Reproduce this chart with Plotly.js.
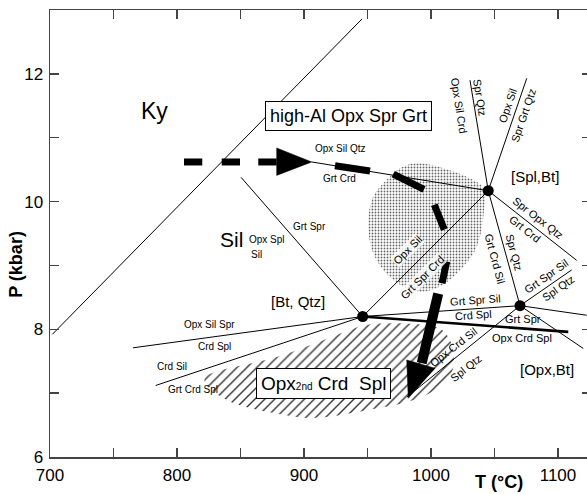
<!DOCTYPE html>
<html>
<head>
<meta charset="utf-8">
<script src="https://cdn.plot.ly/plotly-3.0.1.min.js"></script>
<style>
html,body{margin:0;padding:0;overflow:hidden;background:#fff;}
#chart{width:592px;height:494px;}
</style>
</head>
<body>
<div id="chart"></div>
<script>
// ---- Invariant points ([Bt, Qtz], [Spl,Bt], [Opx,Bt]) ----
const invT = [946.2, 1045.1, 1070.1];
const invP = [8.20, 10.17, 8.37];

// ---- Reaction lines (T in °C, P in kbar) ----
const kySilT = [701.8, 945.7],   kySilP = [7.92, 12.86];
const silSplT = [850.4, 946.2],  silSplP = [10.38, 8.20];
const btq_sbT = [946.2, 1045.1], btq_sbP = [8.20, 10.17];
const btq_obT = [946.2, 1070.1], btq_obP = [8.20, 8.37];
const leftHiT = [765.4, 946.2],  leftHiP = [7.71, 8.20];
const leftLoT = [783.2, 946.2],  leftLoP = [7.12, 8.20];
const sbTopLT = [1045.1, 1030.7], sbTopLP = [10.17, 11.90];
const sbTopRT = [1045.1, 1075.4], sbTopRP = [10.17, 11.93];
const sbLeftT = [906.1, 1045.1],  sbLeftP = [10.62, 10.17];
const sbRightT = [1045.1, 1114.7], sbRightP = [10.17, 9.08];
const sb_obT = [1045.1, 1070.1],  sb_obP = [10.17, 8.37];
const obUpT = [1070.1, 1110.8],   obUpP = [8.37, 8.93];
const obRightT = [1070.1, 1122.6], obRightP = [8.37, 8.22];
const obDownT = [1070.1, 1119.9], obDownP = [8.37, 7.70];
const obLowLT = [981.1, 1070.1],  obLowLP = [6.94, 8.37];
const thickT = [946.2, 1108.1],   thickP = [8.20, 7.96];

// ---- Shaded fields ----
const stippleT = [991.3, 1028.1, 1041.2, 1041.2, 1036.0, 1025.4, 1007.1, 988.7, 967.7, 954.6, 950.6, 954.6, 967.7, 978.2, 991.3];
const stippleP = [10.60, 10.39, 10.21, 9.76, 9.29, 8.98, 8.67, 8.59, 8.82, 9.19, 9.66, 10.08, 10.39, 10.55, 10.60];
const hatchT = [822.0, 881.1, 933.9, 949.6, 993.7, 1008.7, 1016.5, 1016.5, 1003.1, 981.1, 959.8, 907.1, 881.1, 855.1, 839.4, 823.6, 822.0];
const hatchP = [7.24, 7.58, 7.97, 8.07, 8.07, 7.99, 7.75, 7.33, 7.05, 6.86, 6.77, 6.61, 6.67, 6.78, 6.89, 7.11, 7.24];

// ---- P-T path (dashed thick arrow) ----
const pathDashT = [805.5, 819.9, null, 835.2, 849.6, null, 864.0, 878.5, null, 924.4, 952.0, null, 970.3, 994.5, null, 1002.6, 1010.5, null, 1012.4, 1008.7];
const pathDashP = [10.62, 10.62, null, 10.62, 10.62, null, 10.62, 10.62, null, 10.56, 10.48, null, 10.43, 10.19, null, 9.95, 9.56, null, 9.06, 8.72];
const shaftT = [1005.7, 992.7], shaftP = [8.56, 7.47];
const head1T = [878.5, 906.1, 878.5, 878.5], head1P = [10.84, 10.62, 10.41, 10.84];
const head2T = [980.9, 1003.1, 982.1, 980.9], head2P = [7.52, 7.39, 6.92, 7.52];

// ---- Labels ----
const labText = ['Ky','Sil','Opx Sil Qtz','Grt Crd','Grt Spr','Opx Spl','Sil','[Bt, Qtz]',
  'Opx Sil Spr','Crd Spl','Crd Sil','Grt Crd Spl','[Spl,Bt]','Opx Sil Crd','Spr Qtz','Opx Sil','Spr Grt Qtz',
  'Spr Opx Qtz','Grt Crd','Grt Crd Sil','Spr Qtz','Grt Spr Sil','Spl Qtz','Opx Sil','Grt Spr Crd',
  'Grt Spr Sil','Crd Spl','Grt Spr','Opx Crd Spl','Opx Crd Sil','Spl Qtz','[Opx,Bt]'];
const labT = [781.9, 843.0, 928.9, 928.3, 904.7, 870.6, 862.7, 895.5,
  825.4, 829.9, 795.8, 812.8, 1081.9, 1022.3, 1038.6, 1060.2, 1072.7,
  1084.5, 1074.0, 1050.4, 1065.5, 1091.1, 1100.2, 981.5, 993.3,
  1035.0, 1033.3, 1072.4, 1071.4, 1017.6, 1027.7, 1091.1];
const labP = [11.42, 9.40, 10.83, 10.36, 9.61, 9.40, 9.17, 8.43,
  8.08, 7.73, 7.41, 7.05, 10.39, 11.50, 11.64, 11.50, 11.36,
  9.75, 9.57, 9.10, 9.21, 8.83, 8.65, 9.24, 8.82,
  8.46, 8.22, 8.16, 7.86, 7.73, 7.39, 7.37];
const labAngle = [0,0,0,0,0,0,0,0, 0,0,0,0,0,81,81,-71,-71, 38,38,75,75,-35,-35,-45,-45, -4,-4,0,0,-38,-38,0];
const labSize = [23,21,10,10,10,10,10,15, 10,10,10,10,15,11,11,11,11, 11,11,11,11,11,11,11,11, 11,11,11,11,11,11,15];
const labHalo = [0,0,0,0,0,0,0,0, 0,0,0,0,0,0,0,0,0, 0,0,0,0,0,0,1,1, 0,0,0,0,0,0,0];

const boxText = ['high-Al Opx Spr Grt', 'Opx<span style="font-size:10px">2nd</span> Crd  Spl'];
const boxT = [935.3, 915.2];
const boxP = [11.34, 7.15];
const boxSize = [18, 19];

const FONT = 'Liberation Sans, Arial, Helvetica, sans-serif';

function seg(ts, ps) {
  const T = [], P = [];
  ts.forEach((t, i) => { T.push(...t, null); P.push(...ps[i], null); });
  return {T, P};
}
const thin = seg(
  [kySilT, silSplT, btq_sbT, btq_obT, leftHiT, leftLoT, sbTopLT, sbTopRT, sbLeftT, sbRightT, sb_obT, obUpT, obRightT, obDownT, obLowLT],
  [kySilP, silSplP, btq_sbP, btq_obP, leftHiP, leftLoP, sbTopLP, sbTopRP, sbLeftP, sbRightP, sb_obP, obUpP, obRightP, obDownP, obLowLP]);

const traces = [
  {x: stippleT, y: stippleP, type: 'scatter', mode: 'lines', fill: 'toself',
   line: {width: 0, shape: 'spline', color: 'rgba(0,0,0,0)'}, fillcolor: 'rgba(255,255,255,0)',
   fillpattern: {shape: '.', size: 3, solidity: 0.3, fgcolor: '#666', bgcolor: 'rgba(255,255,255,0)'}, hoverinfo: 'skip'},
  {x: hatchT, y: hatchP, type: 'scatter', mode: 'lines', fill: 'toself',
   line: {width: 0, shape: 'spline', color: 'rgba(0,0,0,0)'}, fillcolor: 'rgba(255,255,255,0)',
   fillpattern: {shape: '/', size: 7, solidity: 0.2, fgcolor: '#333', bgcolor: 'rgba(255,255,255,0)'}, hoverinfo: 'skip'},
  {x: thin.T, y: thin.P, type: 'scatter', mode: 'lines', line: {color: '#000', width: 1}, connectgaps: false, hoverinfo: 'skip'},
  {x: thickT, y: thickP, type: 'scatter', mode: 'lines', line: {color: '#000', width: 2.6}, hoverinfo: 'skip'},
  {x: pathDashT, y: pathDashP, type: 'scatter', mode: 'lines', line: {color: '#000', width: 7}, connectgaps: false, hoverinfo: 'skip'},
  {x: shaftT, y: shaftP, type: 'scatter', mode: 'lines', line: {color: '#000', width: 10}, hoverinfo: 'skip'},
  {x: head1T, y: head1P, type: 'scatter', mode: 'lines', fill: 'toself', fillcolor: '#000', line: {width: 0.5, color: '#000'}, hoverinfo: 'skip'},
  {x: head2T, y: head2P, type: 'scatter', mode: 'lines', fill: 'toself', fillcolor: '#000', line: {width: 0.5, color: '#000'}, hoverinfo: 'skip'},
  {x: invT, y: invP, type: 'scatter', mode: 'markers', marker: {size: 11, color: '#000'}, hoverinfo: 'skip'}
];

const annotations = [];
labText.forEach((t, i) => annotations.push({
  x: labT[i], y: labP[i], xref: 'x', yref: 'y', text: t, showarrow: false,
  textangle: labAngle[i], xanchor: 'center', yanchor: 'middle',
  bgcolor: labHalo[i] ? 'rgba(255,255,255,0.8)' : 'rgba(0,0,0,0)', borderpad: 0,
  font: {family: FONT, size: labSize[i], color: '#000'}
}));
boxText.forEach((t, i) => annotations.push({
  x: boxT[i], y: boxP[i], xref: 'x', yref: 'y', text: t, showarrow: false,
  xanchor: 'center', yanchor: 'middle', bgcolor: '#fff', bordercolor: '#000', borderwidth: 1, borderpad: 4,
  font: {family: FONT, size: boxSize[i], color: '#000'}
}));
annotations.push({x: 0.830, y: -0.055, xref: 'paper', yref: 'paper', text: '<b>T (°C)</b>', showarrow: false,
  xanchor: 'center', yanchor: 'middle', font: {family: FONT, size: 18, color: '#000'}});
annotations.push({x: -0.063, y: 0.432, xref: 'paper', yref: 'paper', text: '<b>P (kbar)</b>', showarrow: false,
  textangle: -90, xanchor: 'center', yanchor: 'middle', font: {family: FONT, size: 18, color: '#000'}});

const axCommon = {
  showline: true, linecolor: '#444', linewidth: 1.5, mirror: 'ticks', showgrid: false, zeroline: false,
  ticks: 'inside', ticklen: 9, tickcolor: '#444', tickwidth: 1.3,
  tickfont: {family: FONT, size: 17, color: '#000'}
};

const layout = {
  width: 592, height: 494, margin: {l: 50, r: 1, t: 10, b: 37},
  paper_bgcolor: '#fff', plot_bgcolor: '#fff', showlegend: false,
  xaxis: Object.assign({}, axCommon, {range: [700, 1126], tick0: 700, dtick: 100, ticklabelstandoff: 2,
    minor: {dtick: 50, ticks: 'inside', ticklen: 9, tickcolor: '#444', tickwidth: 1.3}}),
  yaxis: Object.assign({}, axCommon, {range: [6, 13], tick0: 6, dtick: 2, ticklabelstandoff: 2,
    minor: {dtick: 1, ticks: 'inside', ticklen: 9, tickcolor: '#444', tickwidth: 1.3}}),
  annotations: annotations
};

Plotly.newPlot('chart', traces, layout, {staticPlot: true, displayModeBar: false});
</script>
</body>
</html>
